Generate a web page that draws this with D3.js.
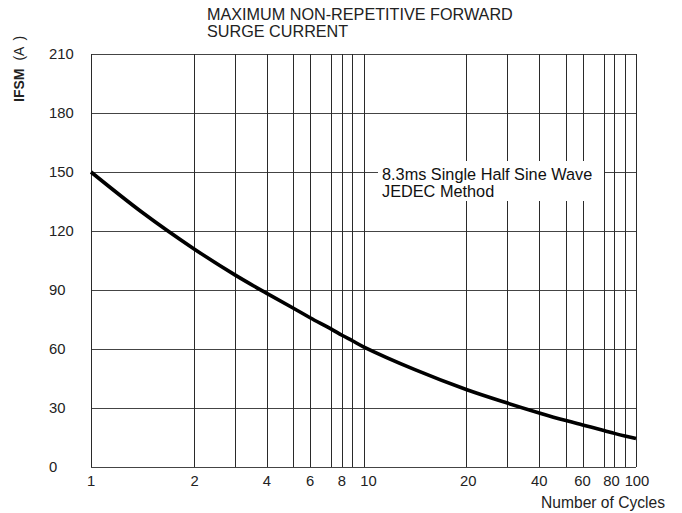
<!DOCTYPE html>
<html>
<head>
<meta charset="utf-8">
<script src="https://cdn.jsdelivr.net/npm/d3@7"></script>
<style>
  html, body { margin: 0; padding: 0; background: #fff; }
  svg { display: block; font-family: "Liberation Sans", Arial, sans-serif; }
</style>
</head>
<body>
<svg id="chart" width="682" height="513"></svg>
<script>
// Surge current curve: peak forward surge current vs. number of cycles
const cycles = [1, 1.5, 2, 3, 4, 5, 6, 7, 8, 9, 10, 15, 20, 30, 40, 50, 60, 70, 80, 90, 100];
const ifsm   = [150, 129.4, 111, 97.7, 88.3, 80.7, 75.9, 70.1, 67, 64.2, 61.1, 49.5, 39.4, 32.5, 27.5, 23.6, 21.4, 18.6, 17.1, 15.8, 14.5];

// Grid and tick values
const gridCycles = [1, 2, 3, 4, 5, 6, 7, 8, 9, 10, 20, 30, 40, 50, 60, 70, 80, 90, 100];
const xTickLabels = [1, 2, 4, 6, 8, 10, 20, 40, 60, 80, 100];
const yTicks = [0, 30, 60, 90, 120, 150, 180, 210];

// Position of 1..10 inside one decade of the printed log paper
const decadeStops = [0, 0.377, 0.528, 0.645, 0.743, 0.804, 0.882, 0.921, 0.959, 1];

const titleLines = ["MAXIMUM NON-REPETITIVE FORWARD", "SURGE CURRENT"];
const noteLines = ["8.3ms Single Half Sine Wave", "JEDEC Method"];

const svg = d3.select("#chart");
const m = { left: 91, top: 54, right: 636, bottom: 467 };

// Log-paper x scale: piecewise linear through each grid value
const stopPos = gridCycles.map(v => {
  const dec = Math.floor(Math.log10(v) + 1e-9);
  const digit = Math.round(v / Math.pow(10, dec));
  const f = dec === 2 ? 2 : dec + decadeStops[digit - 1];
  return f / 2;
});
const x = d3.scaleLinear()
  .domain(gridCycles)
  .range(stopPos.map(f => m.left + f * (m.right - m.left)));
const y = d3.scaleLinear().domain([0, 210]).range([m.bottom, m.top]);

const crisp = v => Math.round(v) + 0.5;

// Horizontal grid lines
svg.append("g").selectAll("line").data(yTicks).join("line")
  .attr("x1", m.left).attr("x2", m.right)
  .attr("y1", d => crisp(y(d))).attr("y2", d => crisp(y(d)))
  .attr("stroke", "#444").attr("stroke-width", 1);

// Vertical grid lines
svg.append("g").selectAll("line").data(gridCycles).join("line")
  .attr("x1", d => crisp(x(d))).attr("x2", d => crisp(x(d)))
  .attr("y1", m.top).attr("y2", m.bottom)
  .attr("stroke", "#2a2a2a").attr("stroke-width", 1);

// Annotation box cut into the grid
svg.append("rect")
  .attr("x", 378).attr("y", 161).attr("width", 226).attr("height", 40)
  .attr("fill", "#fff");
svg.append("g").selectAll("text").data(noteLines).join("text")
  .attr("x", 382).attr("y", (d, i) => 180 + i * 17)
  .attr("font-size", 16.3).attr("fill", "#111")
  .text(d => d);

// Curve
const line = d3.line()
  .x(d => x(d[0]))
  .y(d => y(d[1]))
  .curve(d3.curveCatmullRom.alpha(0.5));
svg.append("path")
  .datum(cycles.map((c, i) => [c, ifsm[i]]))
  .attr("d", line)
  .attr("fill", "none")
  .attr("stroke", "#000")
  .attr("stroke-width", 3.6)
  .attr("stroke-linejoin", "round");

// Y tick labels
svg.append("g").selectAll("text").data(yTicks).join("text")
  .attr("x", 49).attr("y", d => y(d))
  .attr("dy", "0.35em")
  .attr("font-size", 14.8).attr("fill", "#222")
  .text(d => d);

// X tick labels
const xNudge = { 10: 5, 20: 2, 2: 1, 80: -3, 100: 1 };
svg.append("g").selectAll("text").data(xTickLabels).join("text")
  .attr("x", d => x(d) + (xNudge[d] || 0)).attr("y", 486)
  .attr("text-anchor", "middle")
  .attr("font-size", 14.8).attr("fill", "#222")
  .text(d => d);

// Axis titles
svg.append("text")
  .attr("x", 665).attr("y", 508)
  .attr("text-anchor", "end")
  .attr("font-size", 15.6).attr("fill", "#222")
  .text("Number of Cycles");

const yTitle = svg.append("text")
  .attr("transform", "translate(24,102) rotate(-90)")
  .attr("font-size", 14).attr("fill", "#222");
yTitle.append("tspan").attr("font-weight", "bold").text("IFSM");
yTitle.append("tspan").attr("dx", 8).text("(A");
yTitle.append("tspan").attr("dx", 6).text(")");

// Chart title
svg.append("g").selectAll("text").data(titleLines).join("text")
  .attr("x", 207).attr("y", (d, i) => 19.5 + i * 17)
  .attr("font-size", 16.2).attr("fill", "#222")
  .text(d => d);
</script>
</body>
</html>
